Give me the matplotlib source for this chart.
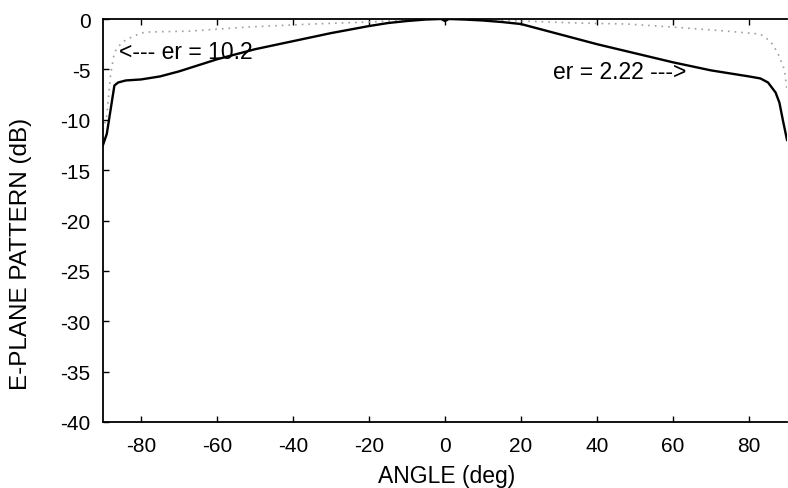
import matplotlib
matplotlib.use("Agg")
import matplotlib.pyplot as plt

plt.rcParams['font.family'] = ['Liberation Sans', 'DejaVu Sans']
plt.rcParams['axes.unicode_minus'] = False

# er = 2.22 (solid)
ang_a = [-90, -89, -88, -87, -86, -84, -80, -75, -70, -60, -50, -40, -30, -20, -15, -10, -5, -1, 0,
         1, 5, 10, 15, 20, 30, 35, 40, 50, 60, 70, 75, 80, 83, 85, 87, 88, 89, 90]
pat_a = [-12.5, -11.4, -9.0, -6.6, -6.3, -6.1, -6.0, -5.7, -5.2, -4.0, -3.0, -2.2, -1.4, -0.7, -0.4, -0.2, -0.05, 0.0, -0.2,
         0.0, -0.05, -0.15, -0.3, -0.5, -1.5, -2.0, -2.5, -3.4, -4.3, -5.1, -5.4, -5.7, -5.9, -6.3, -7.3, -8.3, -10.2, -12.0]

# er = 10.2 (dotted)
ang_b = [-90, -89, -88, -87, -85, -82, -79, -67, -52, -35, -20, -10, 0,
         10, 20, 35, 48, 60, 74, 80, 83, 85.6, 87.5, 89.3, 90]
pat_b = [-11.0, -9.6, -5.5, -3.3, -2.3, -1.7, -1.3, -1.2, -0.8, -0.5, -0.3, -0.1, 0.0,
         -0.1, -0.2, -0.4, -0.5, -0.8, -1.2, -1.4, -1.5, -2.2, -3.3, -5.0, -7.0]

fig = plt.figure(figsize=(7.88, 4.89), dpi=100)
ax = fig.add_axes([103/788, 1-423/489, 684/788, 403/489])

ax.plot(ang_b, pat_b, color='#a0a0a0', lw=1.2, linestyle=(0, (1, 3)))
ax.plot(ang_a, pat_a, color='black', lw=1.7)

ax.set_xlim(-90, 90)
ax.set_ylim(-40, 0)
ax.set_xticks(range(-80, 81, 20))
ax.set_yticks(range(-40, 1, 5))
ax.tick_params(direction='in', length=4, width=1, top=True, labelsize=15)
ax.tick_params(axis='x', pad=10)
ax.tick_params(axis='y', pad=9)
ax.spines['right'].set_visible(False)
for s in ['left', 'top', 'bottom']:
    ax.spines[s].set_linewidth(1.3)

ax.set_xlabel('ANGLE (deg)', fontsize=16.5)
ax.xaxis.set_label_coords(0.503, -0.105)
ax.set_ylabel('E-PLANE PATTERN (dB)', fontsize=17.5)
ax.yaxis.set_label_coords(-0.104, 0.42)

ax.text(-85.8, -3.2, '<--- er = 10.2', fontsize=16.5, va='center', ha='left')
ax.text(28.4, -5.2, 'er = 2.22 --->', fontsize=16.5, va='center', ha='left')

fig.savefig('out.png', dpi=100)
